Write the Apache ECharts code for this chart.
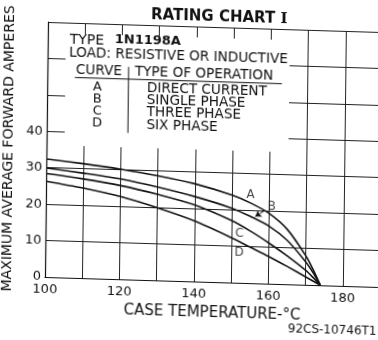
<!DOCTYPE html>
<html>
<head>
<meta charset="utf-8">
<script src="https://cdn.jsdelivr.net/npm/echarts@6/dist/echarts.min.js"></script>
<style>
  html, body { margin: 0; padding: 0; background: #fff; overflow: hidden; }
  /* the printed sheet sits slightly askew on the page */
  #chart {
    width: 378px; height: 340px;
    transform-origin: 45px 277px;
    transform: matrix(1, 0.03, -0.0118, 1, 0, 0);
  }
</style>
</head>
<body>
<div id="chart"></div>
<script>
// Case temperature (°C) sample points shared by all four curves
const temps = [100, 110, 120, 130, 140, 150, 155, 160, 165, 170, 172, 174];

// Maximum average forward current (A) for each type of operation
const curveA = [32.4, 31.4, 30.2, 28.7, 26.8, 24.0, 22.0, 19.3, 15.0, 8.0, 4.3, 0]; // direct current
const curveB = [29.9, 28.8, 27.5, 25.6, 23.3, 20.4, 18.3, 15.8, 12.0, 6.3, 3.4, 0]; // single phase
const curveC = [28.4, 27.2, 25.7, 23.6, 21.0, 17.0, 14.3, 11.2, 7.8, 4.0, 2.1, 0];  // three phase
const curveD = [26.3, 24.7, 22.7, 19.9, 16.6, 12.3, 9.9, 7.5, 4.9, 2.2, 1.1, 0];    // six phase

const curveNames = ['A', 'B', 'C', 'D'];
const operations = ['DIRECT CURRENT', 'SINGLE PHASE', 'THREE PHASE', 'SIX PHASE'];

// Tick labels shown on each axis
const xTicks = [100, 120, 140, 160, 180];
const yTicks = [0, 10, 20, 30, 40];

// Curve letters placed beside their curves, in data units [temp, amperes]
const letterPos = { A: [155.0, 24.2], B: [160.7, 21.2], C: [152.1, 13.6], D: [152.1, 8.3] };
// Pointer from letter B to its curve
const pointerB = [[158.9, 20.1], [156.3, 18.3]];

const FONT = 'DejaVu Sans';
const INK = '#111';

function pairs(vals) { return temps.map((t, i) => [t, vals[i]]); }

const chart = echarts.init(document.getElementById('chart'), null, { renderer: 'canvas' });

const letterSeries = {
  type: 'scatter',
  symbolSize: 0,
  silent: true,
  data: curveNames.map(n => ({ value: letterPos[n], name: n })),
  label: {
    show: true, position: 'inside', formatter: p => p.name,
    fontFamily: FONT, fontSize: 12, color: INK
  },
  z: 5
};

function curve(vals, extra) {
  return Object.assign({
    type: 'line',
    data: pairs(vals),
    smooth: 0.3,
    symbol: 'none',
    lineStyle: { color: INK, width: 1.6 },
    z: 4
  }, extra || {});
}

function txt(text, x, y, size, opts) {
  return {
    type: 'text', x: x, y: y, z: 11,
    style: Object.assign({
      text: text, font: size + 'px "DejaVu Sans"', fill: INK, verticalAlign: 'middle'
    }, opts || {})
  };
}

const rowY = [85.5, 97.7, 109.9, 122.1];

chart.setOption({
  animation: false,
  backgroundColor: '#fff',
  title: {
    text: '{a|RATING CHART }{b|I}',
    left: 143, top: 0,
    textStyle: {
      rich: {
        a: { fontFamily: FONT, fontSize: 15, fontWeight: 'bold', color: INK },
        b: { fontFamily: 'DejaVu Serif', fontSize: 15, fontWeight: 'bold', color: INK }
      }
    }
  },
  grid: { left: 45, top: 22, width: 335, height: 255, containLabel: false, outerBoundsMode: 'none' },
  xAxis: {
    type: 'value', min: 100, max: 190, interval: 10,
    name: 'CASE TEMPERATURE-°C', nameLocation: 'middle', nameGap: 22,
    nameTextStyle: { fontFamily: FONT, fontSize: 15, color: INK },
    axisLine: { show: true, lineStyle: { color: INK, width: 1.2 } },
    axisTick: { show: false },
    axisLabel: {
      margin: 6, fontFamily: FONT, fontSize: 13, color: INK,
      formatter: v => xTicks.includes(v) ? String(v) : ''
    },
    splitLine: { show: true, lineStyle: { color: '#222', width: 1 } }
  },
  yAxis: {
    type: 'value', min: 0, max: 70, interval: 10,
    axisLine: { show: true, lineStyle: { color: INK, width: 1.2 } },
    axisTick: { show: false },
    axisLabel: {
      margin: 4, fontFamily: FONT, fontSize: 13, color: INK,
      formatter: v => yTicks.includes(v) ? String(v) : ''
    },
    splitLine: { show: true, lineStyle: { color: '#222', width: 1 } }
  },
  series: [
    curve(curveA),
    curve(curveB, {
      markLine: {
        silent: true, symbol: ['none', 'arrow'], symbolSize: 6,
        label: { show: false },
        lineStyle: { color: INK, width: 1, type: 'solid' },
        data: [[{ coord: pointerB[0] }, { coord: pointerB[1] }]]
      }
    }),
    curve(curveC),
    curve(curveD),
    letterSeries
  ],
  graphic: [
    // vertical axis title
    {
      type: 'text', x: 7.5, y: 149.5, rotation: Math.PI / 2, z: 11,
      style: {
        text: 'MAXIMUM AVERAGE FORWARD AMPERES', font: '14px "DejaVu Sans"', fill: INK,
        align: 'center', verticalAlign: 'middle'
      }
    },
    // legend panel laid over the upper part of the grid
    { type: 'rect', shape: { x: 63, y: 33, width: 224, height: 112 }, style: { fill: '#fff' }, z: 10 },
    txt('TYPE', 67, 39, 14),
    txt('1N1198A', 112, 38, 13, { font: 'bold 13px "DejaVu Sans"' }),
    txt('LOAD: RESISTIVE OR INDUCTIVE', 66.5, 52.5, 13.6),
    txt('CURVE', 73.5, 69.3, 13.6),
    txt('TYPE OF OPERATION', 132.5, 69.3, 13.6),
    { type: 'line', shape: { x1: 72.6, y1: 76.7, x2: 279.6, y2: 76.7 }, style: { stroke: INK, lineWidth: 1 }, z: 11 },
    { type: 'line', shape: { x1: 126.2, y1: 64.5, x2: 126.2, y2: 130.5 }, style: { stroke: INK, lineWidth: 1 }, z: 11 },
    ...curveNames.map((n, i) => txt(n, 95.3, rowY[i], 13, { align: 'center' })),
    ...operations.map((t, i) => txt(t, 144.7, rowY[i], 13.6)),
    txt('92CS-10746T1', 288.5, 322, 12)
  ]
});
</script>
</body>
</html>
